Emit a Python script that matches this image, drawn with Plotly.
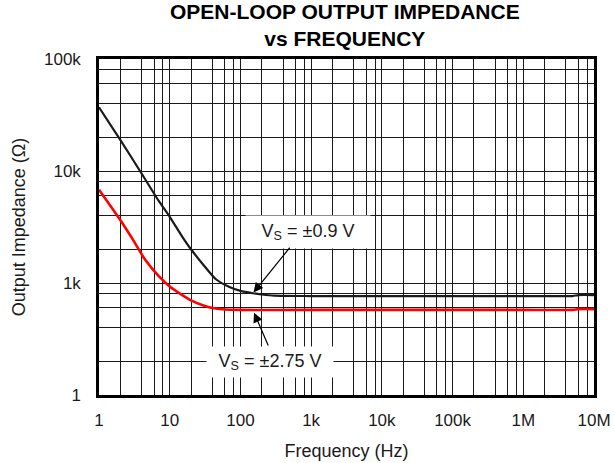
import math
import plotly.graph_objects as go

# ---- data ----
freq_09 = [1, 2, 4, 7, 10, 15, 20, 30, 45, 70, 100, 150, 200, 300, 1e3, 1e4, 1e5, 1e6, 5e6, 6e6, 1e7]
z_09 = [37000, 19000, 9500, 5400, 3900, 2600, 2000, 1450, 1080, 920, 850, 810, 790, 770, 765, 765, 765, 765, 765, 780, 780]

freq_275 = [1, 2, 3, 4.5, 7, 10, 15, 20, 30, 40, 60, 100, 1e3, 1e4, 1e5, 1e6, 5e6, 6e6, 1e7]
z_275 = [6800, 3650, 2450, 1610, 1150, 930, 780, 700, 630, 598, 580, 575, 575, 575, 575, 575, 575, 585, 585]

x_decades = [1, 10, 100, 1e3, 1e4, 1e5, 1e6, 1e7]
x_labels = ["1", "10", "100", "1k", "10k", "100k", "1M", "10M"]
y_decades = [100, 1e3, 1e4, 1e5]
y_labels = ["1", "1k", "10k", "100k"]
minor_mults = [2, 4, 6, 8]

title_lines = ["OPEN-LOOP OUTPUT IMPEDANCE", "vs FREQUENCY"]
label_09 = "V<sub>S</sub> = ±0.9 V"
label_275 = "V<sub>S</sub> = ±2.75 V"
arrow_freq = 150

FONT = "Liberation Sans, Arial, Helvetica, sans-serif"
INK = "#1a1a1a"


def grid_vals(decades, labels):
    vals, texts = [], []
    for i, d in enumerate(decades):
        vals.append(d)
        texts.append(labels[i])
        if i < len(decades) - 1:
            for m in minor_mults:
                vals.append(d * m)
                texts.append("")
    return vals, texts


xv, xt = grid_vals(x_decades, x_labels)
yv, yt = grid_vals(y_decades, y_labels)


def interp_log(fx, fs, zs):
    lx = math.log10(fx)
    for i in range(len(fs) - 1):
        a, b = math.log10(fs[i]), math.log10(fs[i + 1])
        if a <= lx <= b:
            t = (lx - a) / (b - a)
            return 10 ** (math.log10(zs[i]) + t * (math.log10(zs[i + 1]) - math.log10(zs[i])))
    return zs[-1]


fig = go.Figure()
fig.add_trace(go.Scatter(x=freq_09, y=z_09, mode="lines", line_shape="spline",
                         line=dict(color="#1a1a1a", width=2.2, smoothing=0.6), showlegend=False))
fig.add_trace(go.Scatter(x=freq_275, y=z_275, mode="lines", line_shape="spline",
                         line=dict(color="#ff0000", width=2.6, smoothing=0.6), showlegend=False))

axis_common = dict(
    showgrid=True, gridcolor=INK, gridwidth=1,
    showline=True, mirror=True, linecolor="#000000", linewidth=2.5,
    ticks="", zeroline=False, automargin=False,
    tickfont=dict(family=FONT, size=17, color=INK),
)

fig.update_xaxes(type="log", range=[0, 7], tickmode="array", tickvals=xv, ticktext=xt,
                 ticklabelstandoff=8,
                 title=dict(text="Frequency (Hz)", font=dict(family=FONT, size=18, color=INK), standoff=16),
                 **axis_common)
fig.update_yaxes(type="log", range=[2, 5], tickmode="array", tickvals=yv, ticktext=yt,
                 ticklabelstandoff=12,
                 title=dict(text="Output Impedance (Ω)", font=dict(family=FONT, size=18, color=INK), standoff=14),
                 **axis_common)

annos = [
    dict(xref="paper", yref="paper", x=0.5, y=1, yanchor="middle", yshift=34, xshift=-2,
         text="<b>" + "<br>".join(title_lines) + "</b>", showarrow=False, borderpad=0,
         font=dict(family=FONT, size=21, color="#000")),
    # label boxes
    dict(x=2.956, y=3.457, text=label_09, showarrow=False, bgcolor="white",
         width=124, height=32, borderpad=0, font=dict(family=FONT, size=18, color=INK)),
    dict(x=2.419, y=2.295, text=label_275, showarrow=False, bgcolor="white",
         width=126, height=30, borderpad=0, font=dict(family=FONT, size=18, color=INK)),
    # arrows
    dict(x=math.log10(arrow_freq), y=math.log10(interp_log(arrow_freq, freq_09, z_09)),
         text="", showarrow=True, ax=38, ay=-47, arrowhead=2, arrowsize=1.6,
         arrowwidth=1.2, arrowcolor="#000", standoff=1),
    dict(x=math.log10(arrow_freq), y=math.log10(interp_log(arrow_freq, freq_275, z_275)),
         text="", showarrow=True, ax=16, ay=37, arrowhead=2, arrowsize=1.6,
         arrowwidth=1.2, arrowcolor="#000", standoff=3),
]

fig.update_layout(
    width=614, height=463,
    margin=dict(l=99, r=20, t=59, b=68),
    paper_bgcolor="white", plot_bgcolor="white",
    font=dict(family=FONT, color=INK),
    annotations=annos,
)

fig.write_html("out.html", config={"displayModeBar": False},
               post_script="document.body.style.margin='0';")
